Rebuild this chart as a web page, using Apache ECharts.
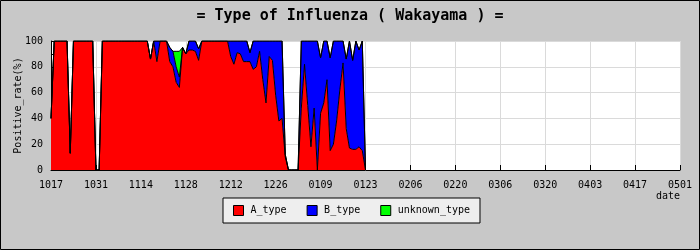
<!DOCTYPE html>
<html>
<head>
<meta charset="utf-8">
<script src="https://cdn.jsdelivr.net/npm/echarts@6/dist/echarts.min.js"></script>
<style>
  html, body { margin: 0; padding: 0; background: #c8c8c8; }
  #chart { width: 700px; height: 250px; }
</style>
</head>
<body>
<div id="chart"></div>
<script>
// Daily dates from 10/17 to 05/01 (197 days)
const startDate = [2014, 9, 17];
const dayCount = 197;
const tickLabels = ['1017','1031','1114','1128','1212','1226','0109','0123','0206','0220','0306','0320','0403','0417','0501'];

// Positive rate (%) per day, from 10/17 onwards
const aType = [
  40,100,100,100,100,100,13,100,100,100,100,100,100,100,0,0,
  100,100,100,100,100,100,100,100,100,100,100,100,100,100,100,
  86,100,84,100,100,100,84,80,68,64,95,90,93,93,92,85,
  100,100,100,100,100,100,100,100,100,
  88,82,91,90,84,84,84,78,80,92,70,52,88,85,58,38,40,10,
  0,0,0,0,
  48,82,50,18,48,0,44,52,70,15,20,38,62,83,32,17,16,16,18,15,0
];
const bType = [
  0,0,0,0,0,0,0,0,0,0,0,0,0,0,0,0,
  0,0,0,0,0,0,0,0,0,0,0,0,0,0,0,
  0,0,16,0,0,0,11,12,12,8,0,0,7,7,8,9,
  0,0,0,0,0,0,0,0,0,
  12,18,9,10,16,16,7,22,20,8,30,48,12,15,42,62,60,2,
  0,0,0,0,
  52,18,50,82,52,100,43,48,30,72,80,62,38,17,54,83,69,84,75,85,0
];
const unknownType = [
  0,0,0,0,0,0,0,0,0,0,0,0,0,0,0,0,
  0,0,0,0,0,0,0,0,0,0,0,0,0,0,0,
  0,0,0,0,0,0,0,0,12,20,0,0,0,0,0,0,
  0,0,0,0,0,0,0,0,0,
  0,0,0,0,0,0,0,0,0,0,0,0,0,0,0,0,0,0,
  0,0,0,0,
  0,0,0,0,0,0,0,0,0,0,0,0,0,0,0,0,0,0,0,0,0
];

const categories = [];
for (let i = 0; i < dayCount; i++) {
  const d = new Date(Date.UTC(startDate[0], startDate[1], startDate[2] + i));
  const mm = String(d.getUTCMonth() + 1).padStart(2, '0');
  const dd = String(d.getUTCDate()).padStart(2, '0');
  categories.push(mm + dd);
}

const FONT = '"DejaVu Sans Mono", monospace';
const every14 = function (idx) { return idx % 14 === 0; };
const chart = echarts.init(document.getElementById('chart'), null, { renderer: 'canvas' });

function areaSeries(name, data, color) {
  return {
    name: name,
    type: 'line',
    stack: 'total',
    data: data,
    symbol: 'none',
    showSymbol: false,
    color: color,
    itemStyle: { color: color },
    lineStyle: { color: '#000', width: 1 },
    areaStyle: { color: color, opacity: 1 },
    emphasis: { disabled: true }
  };
}

chart.setOption({
  animation: false,
  backgroundColor: '#c8c8c8',
  title: {
    text: '= Type of Influenza ( Wakayama ) =',
    left: 'center',
    top: 4,
    textStyle: { fontFamily: FONT, fontSize: 15, fontWeight: 'bold', color: '#000' }
  },
  graphic: [{
    type: 'rect',
    shape: { x: 0.5, y: 0.5, width: 699, height: 249 },
    style: { fill: null, stroke: '#000', lineWidth: 1 },
    silent: true, z: 100
  }],
  legend: {
    left: 223,
    top: 198,
    orient: 'horizontal',
    icon: 'rect',
    itemWidth: 10,
    itemHeight: 10,
    itemGap: 20,
    padding: [7, 10, 7, 10],
    backgroundColor: '#eeeeee',
    borderColor: '#000',
    borderWidth: 1,
    borderRadius: 0,
    itemStyle: { borderColor: '#000', borderWidth: 1 },
    textStyle: { fontFamily: FONT, fontSize: 10, color: '#000', padding: [0, 0, 0, 2] },
    selectedMode: false,
    data: ['A_type', 'B_type', 'unknown_type']
  },
  grid: {
    left: 51, right: 20, top: 41, bottom: 80,
    show: true, backgroundColor: '#ffffff', borderWidth: 0,
    containLabel: false,
    outerBoundsMode: 'none'
  },
  xAxis: {
    type: 'category',
    data: categories,
    boundaryGap: false,
    name: 'date',
    nameLocation: 'end',
    nameGap: -12,
    nameMoveOverlap: false,
    nameTextStyle: { fontFamily: FONT, fontSize: 10, color: '#000', align: 'center', verticalAlign: 'top', padding: [21, 0, 0, 0] },
    axisLine: { show: true, lineStyle: { color: '#000', width: 1 } },
    axisTick: { show: true, inside: true, length: 5, interval: every14, lineStyle: { color: '#000' } },
    axisLabel: {
      interval: every14, margin: 10,
      fontFamily: FONT, fontSize: 10, color: '#000',
      formatter: function (v, idx) { return tickLabels[idx / 14]; }
    },
    splitLine: { show: true, interval: every14, lineStyle: { color: '#dadada', width: 1 } }
  },
  yAxis: {
    type: 'value',
    min: 0, max: 100, interval: 20,
    name: 'Positive_rate(%)',
    nameLocation: 'middle',
    nameGap: 28,
    nameMoveOverlap: false,
    nameTextStyle: { fontFamily: FONT, fontSize: 10, color: '#000' },
    axisLine: { show: true, lineStyle: { color: '#000', width: 1 } },
    axisTick: { show: true, inside: true, length: 5, lineStyle: { color: '#000' } },
    minorTick: { show: true, splitNumber: 2, length: 3, lineStyle: { color: '#000' } },
    minorSplitLine: { show: false },
    axisLabel: { margin: 8, fontFamily: FONT, fontSize: 10, color: '#000' },
    splitLine: { show: true, lineStyle: { color: '#dadada', width: 1 } }
  },
  series: [
    areaSeries('A_type', aType, '#ff0000'),
    areaSeries('B_type', bType, '#0000ff'),
    areaSeries('unknown_type', unknownType, '#00ff00')
  ]
});
</script>
</body>
</html>
